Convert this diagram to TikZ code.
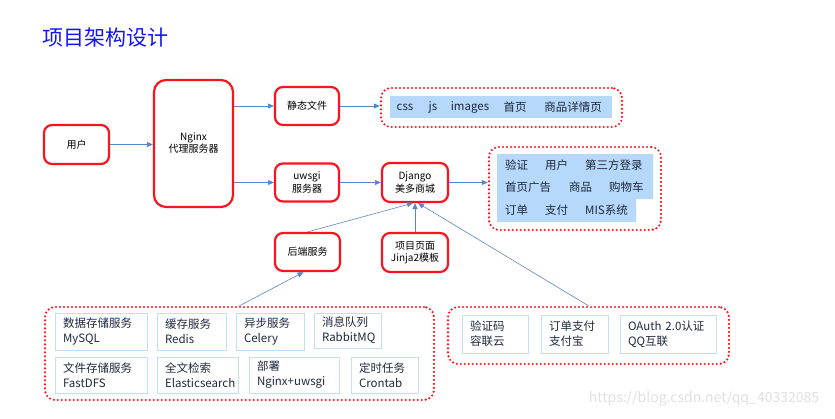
\documentclass[tikz,border=0pt]{standalone}
\usepackage{fontspec}
\setmainfont{Noto Sans CJK SC}
\usetikzlibrary{arrows.meta}
\definecolor{boxred}{RGB}{250,20,30}
\definecolor{arrblue}{RGB}{90,134,192}
\definecolor{bandblue}{RGB}{182,216,250}
\definecolor{cellblue}{RGB}{196,222,246}
\definecolor{txtdark}{RGB}{30,40,60}
\definecolor{titleblue}{RGB}{20,20,245}
\tikzset{
  redbox/.style={draw=boxred, line width=2.2pt, rounded corners=8pt, align=center,
    font=\fontsize{10}{12.5}\selectfont, text=black, inner sep=1pt},
  dotbox/.style={draw=boxred, line width=2.4pt, dash pattern=on 0pt off 4pt,
    line cap=round, rounded corners=10pt, inner sep=0pt},
  cell/.style={draw=cellblue, line width=1pt, align=left, inner xsep=8pt, inner ysep=0pt,
    font=\fontsize{11.5}{15}\selectfont, text=txtdark},
  bandtxt/.style={font=\fontsize{11.5}{14}\selectfont, text=txtdark, inner sep=0pt},
  arr/.style={draw=arrblue, line width=0.8pt, -{Triangle[length=6pt,width=5pt]}},
  thinarr/.style={draw=arrblue, line width=0.6pt, -{Triangle[length=6pt,width=5pt]}}
}
\begin{document}
\begin{tikzpicture}[x=1pt,y=-1pt]
\useasboundingbox (0,0) rectangle (835,418);
% title
\node[anchor=west, inner sep=0pt, text=titleblue, font=\fontsize{21}{25}\selectfont] (title) at (42,38) {项目架构设计};
% red boxes
\node[redbox, minimum width=65pt, minimum height=39pt] (user) at (76.5,144.5) {用户};
\node[redbox, minimum width=79pt, minimum height=127pt, rounded corners=12pt, font=\fontsize{10}{12}\selectfont] (nginx) at (193.5,143.5) {Nginx\\代理服务器};
\node[redbox, minimum width=64pt, minimum height=38pt] (static) at (307,106) {静态文件};
\node[redbox, minimum width=64pt, minimum height=38pt] (uwsgi) at (307,182.5) {uwsgi\\服务器};
\node[redbox, minimum width=66pt, minimum height=39pt] (django) at (415,182.5) {Django\\美多商城};
\node[redbox, minimum width=65pt, minimum height=38pt] (backend) at (307.5,252) {后端服务};
\node[redbox, minimum width=66pt, minimum height=39pt] (jinja) at (415,252.5) {项目页面\\Jinja2模板};
% static group
\fill[bandblue] (390,96) rectangle (612,118);
\node[dotbox, minimum width=241pt, minimum height=39pt] (staticgroup) at (501.5,107.5) {};
\node[bandtxt] (s1) at (405,107) {css};
\node[bandtxt] (s2) at (433,107) {js};
\node[bandtxt] (s3) at (470,107) {images};
\node[bandtxt] (s4) at (515,107) {首页};
\node[bandtxt] (s5) at (573,107) {商品详情页};
% app group
\fill[bandblue] (497,154) -- (653,154) -- (653,199) -- (636,199) -- (636,222) -- (497,222) -- cycle;
\node[dotbox, minimum width=172pt, minimum height=83pt] (appgroup) at (575,188.5) {};
\node[bandtxt, anchor=west] (a1) at (505,165) {验证};
\node[bandtxt, anchor=west] (a2) at (545,165) {用户};
\node[bandtxt, anchor=west] (a3) at (585,165) {第三方登录};
\node[bandtxt, anchor=west] (a4) at (505,187) {首页广告};
\node[bandtxt, anchor=west] (a5) at (569,187) {商品};
\node[bandtxt, anchor=west] (a6) at (609,187) {购物车};
\node[bandtxt, anchor=west] (a7) at (505,210) {订单};
\node[bandtxt, anchor=west] (a8) at (545,210) {支付};
\node[bandtxt, anchor=west] (a9) at (585,210) {MIS系统};
% base group
\node[dotbox, minimum width=389pt, minimum height=93pt] (basegroup) at (239.5,353.5) {};
\node[cell, minimum width=92pt, minimum height=37pt, text width=76pt] (c1) at (101,331.5) {数据存储服务\\MySQL};
\node[cell, minimum width=69pt, minimum height=37pt, text width=53pt] (c2) at (191.5,331.5) {缓存服务\\Redis};
\node[cell, minimum width=68pt, minimum height=37pt, text width=52pt] (c3) at (270,331.5) {异步服务\\Celery};
\node[cell, minimum width=67pt, minimum height=35pt, text width=51pt] (c4) at (347.5,330.5) {消息队列\\RabbitMQ};
\node[cell, minimum width=92pt, minimum height=36pt, text width=76pt] (c5) at (101,375) {文件存储服务\\FastDFS};
\node[cell, minimum width=81pt, minimum height=36pt, text width=65pt] (c6) at (197.5,375) {全文检索\\Elasticsearch};
\node[cell, minimum width=90pt, minimum height=36pt, text width=74pt] (c7) at (294,375) {部署\\Nginx+uwsgi};
\node[cell, minimum width=67pt, minimum height=36pt, text width=51pt] (c8) at (384.5,375) {定时任务\\Crontab};
% third-party group
\node[dotbox, minimum width=281pt, minimum height=57pt] (thirdgroup) at (588.5,335.5) {};
\node[cell, minimum width=66pt, minimum height=38pt, text width=50pt] (t1) at (495,334) {验证码\\容联云};
\node[cell, minimum width=67pt, minimum height=38pt, text width=51pt] (t2) at (574.5,334) {订单支付\\支付宝};
\node[cell, minimum width=96pt, minimum height=38pt, text width=80pt] (t3) at (668,334) {OAuth 2.0认证\\QQ互联};
% connectors
\draw[arr] (user.east) -- (nginx.west |- user.east);
\draw[arr] (nginx.east |- static.west) -- (static.west);
\draw[arr] (nginx.east |- uwsgi.west) -- (uwsgi.west);
\draw[arr] (static.east) -- (staticgroup.west |- static.east);
\draw[arr] (uwsgi.east) -- (django.west);
\draw[arr] (django.east) -- (appgroup.west |- django.east);
\draw[thinarr] (backend.north) -- ([xshift=-2pt]django.south);
\draw[thinarr] (jinja.north) -- (django.south);
\draw[thinarr] (thirdgroup.north) -- ([xshift=3pt]django.south);
\draw[thinarr] (basegroup.north) -- ([xshift=-4pt]backend.south);
% watermark
\node[text=black!12, font=\fontsize{14}{16}\selectfont, inner sep=0pt] (wm) at (704,399) {https://blog.csdn.net/qq\_40332085};
\end{tikzpicture}
\end{document}
